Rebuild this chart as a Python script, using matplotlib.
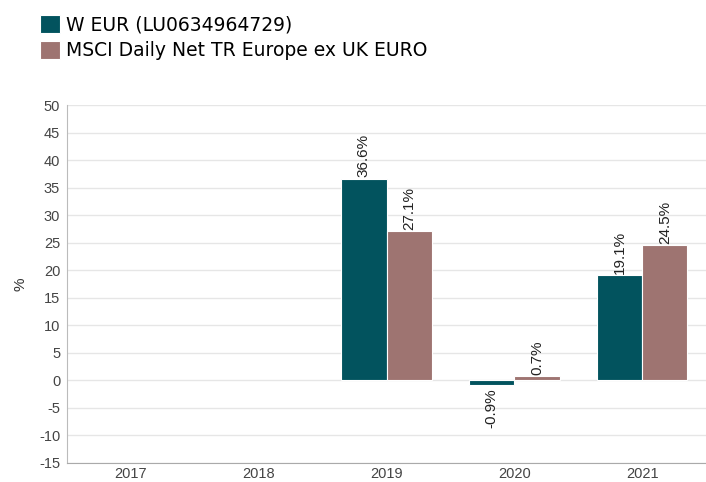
import numpy as np
import matplotlib
matplotlib.use('Agg')
import matplotlib.pyplot as plt
from matplotlib.ticker import MultipleLocator

plt.rcParams['axes.unicode_minus'] = False

years = ['2017', '2018', '2019', '2020', '2021']
fund = [np.nan, np.nan, 36.6, -0.9, 19.1]
bench = [np.nan, np.nan, 27.1, 0.7, 24.5]
fund_name = 'W EUR (LU0634964729)'
bench_name = 'MSCI Daily Net TR Europe ex UK EURO'

teal = '#02535e'
rose = '#9e7471'

fig = plt.figure(figsize=(7.06, 4.82), dpi=100)
ax = fig.add_axes([0.095, 0.040, 0.905, 0.742])

x = np.arange(len(years))
w = 0.355
b1 = ax.bar(x - w/2, fund, w, color=teal, edgecolor='white', linewidth=0.8, label=fund_name, zorder=3)
b2 = ax.bar(x + w/2, bench, w, color=rose, edgecolor='white', linewidth=0.8, label=bench_name, zorder=3)

# labels on bars, rotated
for bars, vals in ((b1, fund), (b2, bench)):
  for rect, v in zip(bars, vals):
    if np.isnan(v):
      continue
    cx = rect.get_x() + rect.get_width()/2
    if v >= 0:
      ax.annotate('%.1f%%' % v, (cx, v), xytext=(0, 1), textcoords='offset points',
                  rotation=90, ha='center', va='bottom', fontsize=11, family='Liberation Sans', color='#222222')
    else:
      ax.annotate('%.1f%%' % v, (cx, v), xytext=(0, -2), textcoords='offset points',
                  rotation=90, ha='center', va='top', fontsize=11, family='Liberation Sans', color='#222222')

ax.set_xlim(-0.5, 4.5)
ax.set_ylim(-15, 50)
ax.yaxis.set_major_locator(MultipleLocator(5))
ax.set_xticks(x)
ax.set_xticklabels(years)
ax.grid(axis='y', color='#e6e6e6', linewidth=1, zorder=0)
for s in ('top', 'right'):
  ax.spines[s].set_visible(False)
ax.spines['left'].set_color('#bbbbbb')
ax.spines['bottom'].set_color('#aaaaaa')
ax.tick_params(length=0, labelsize=10.5, colors='#444444')
ax.tick_params(axis='x', pad=3)
ax.tick_params(axis='y', pad=5)
for lab in ax.get_xticklabels() + ax.get_yticklabels():
  lab.set_family('Liberation Sans')
ax.set_ylabel('%', fontsize=11, family='Liberation Sans', color='#333333', labelpad=8)

fig.legend(handles=[b1, b2], loc='upper left', bbox_to_anchor=(0.057, 0.968), frameon=False,
           fontsize=13.5, handlelength=1.07, handleheight=1.07, handletextpad=0.3, labelspacing=0.35,
           borderaxespad=0, borderpad=0)

fig.savefig('out.png', dpi=100)
